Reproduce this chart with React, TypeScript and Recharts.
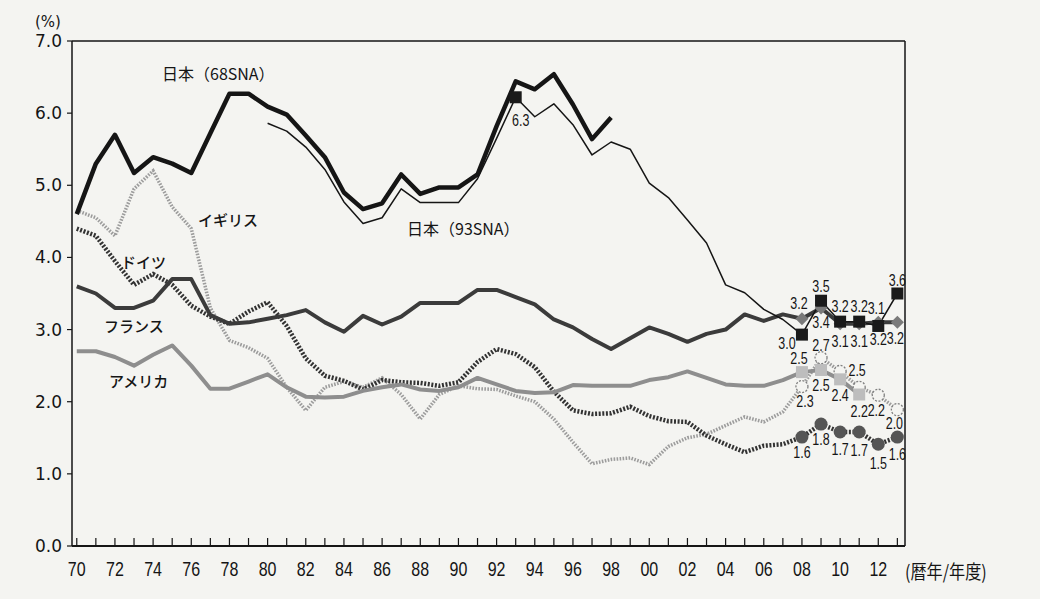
import { LineChart, Line, XAxis, YAxis, ReferenceLine } from 'recharts'

// calendar / fiscal years on the x axis
const years = [
  1970, 1971, 1972, 1973, 1974, 1975, 1976, 1977, 1978, 1979,
  1980, 1981, 1982, 1983, 1984, 1985, 1986, 1987, 1988, 1989,
  1990, 1991, 1992, 1993, 1994, 1995, 1996, 1997, 1998, 1999,
  2000, 2001, 2002, 2003, 2004, 2005, 2006, 2007, 2008, 2009,
  2010, 2011, 2012, 2013,
]
const yTicks = [0, 1, 2, 3, 4, 5, 6, 7]

// 日本（68SNA） 1970-1998
const japan68 = [
  4.6, 5.3, 5.7, 5.17, 5.39, 5.3, 5.17, 5.72, 6.27, 6.27,
  6.09, 5.98, 5.69, 5.39, 4.9, 4.67, 4.75, 5.15, 4.88, 4.97,
  4.97, 5.15, 5.82, 6.44, 6.33, 6.54, 6.12, 5.64, 5.94,
]
// 日本（93SNA） 1980-2013
const japan93 = [
  5.86, 5.75, 5.53, 5.22, 4.77, 4.47, 4.55, 4.95, 4.76, 4.76,
  4.76, 5.09, 5.65, 6.22, 5.95, 6.13, 5.84, 5.42, 5.6, 5.5,
  5.03, 4.83, 4.52, 4.2, 3.62, 3.51, 3.28, 3.14, 2.93, 3.4,
  3.11, 3.11, 3.05, 3.5,
]
// フランス 1970-2013
const france = [
  3.6, 3.5, 3.3, 3.3, 3.4, 3.7, 3.7, 3.2, 3.08, 3.1,
  3.15, 3.2, 3.27, 3.1, 2.97, 3.19, 3.07, 3.18, 3.37, 3.37,
  3.37, 3.55, 3.55, 3.45, 3.35, 3.14, 3.03, 2.87, 2.73, 2.88,
  3.03, 2.94, 2.83, 2.94, 3.0, 3.21, 3.12, 3.21, 3.15, 3.3,
  3.08, 3.08, 3.1, 3.1,
]
// アメリカ 1970-2011
const usa = [
  2.7, 2.7, 2.62, 2.5, 2.65, 2.78, 2.5, 2.18, 2.18, 2.28,
  2.38, 2.2, 2.07, 2.06, 2.07, 2.15, 2.2, 2.24, 2.17, 2.15,
  2.2, 2.33, 2.24, 2.15, 2.12, 2.13, 2.23, 2.22, 2.22, 2.22,
  2.3, 2.34, 2.42, 2.33, 2.24, 2.22, 2.22, 2.3, 2.41, 2.44,
  2.31, 2.1,
]
// ドイツ 1970-2013
const germany = [
  4.4, 4.3, 3.95, 3.62, 3.77, 3.62, 3.33, 3.18, 3.08, 3.25,
  3.38, 3.05, 2.6, 2.36, 2.29, 2.17, 2.3, 2.27, 2.26, 2.22,
  2.27, 2.55, 2.73, 2.66, 2.48, 2.14, 1.88, 1.83, 1.84, 1.93,
  1.8, 1.73, 1.72, 1.53, 1.41, 1.3, 1.39, 1.41, 1.51, 1.69,
  1.58, 1.58, 1.41, 1.51,
]
// イギリス 1970-2013
const uk = [
  4.65, 4.55, 4.3, 4.95, 5.2, 4.7, 4.4, 3.3, 2.85, 2.75,
  2.6, 2.2, 1.88, 2.2, 2.28, 2.2, 2.33, 2.1, 1.76, 2.1,
  2.22, 2.18, 2.17, 2.08, 2.0, 1.76, 1.44, 1.14, 1.2, 1.22,
  1.13, 1.38, 1.5, 1.55, 1.67, 1.79, 1.72, 1.86, 2.21, 2.61,
  2.42, 2.2, 2.09, 1.89,
]

// printed value labels at the marked points
const japanMarkYears = [1993, 2008, 2009, 2010, 2011, 2012, 2013]
const japanMarkLabels = ['6.3', '3.0', '3.5', '3.2', '3.2', '3.1', '3.6']
const franceMarkYears = [2008, 2009, 2010, 2011, 2012, 2013]
const franceMarkLabels = ['3.2', '3.4', '3.1', '3.1', '3.2', '3.2']
const usaMarkYears = [2008, 2009, 2010, 2011]
const usaMarkLabels = ['2.5', '2.5', '2.4', '2.2']
const ukMarkYears = [2008, 2009, 2010, 2011, 2012, 2013]
const ukMarkLabels = ['2.3', '2.7', '2.5', '', '2.2', '2.0']
const germanyMarkYears = [2008, 2009, 2010, 2011, 2012, 2013]
const germanyMarkLabels = ['1.6', '1.8', '1.7', '1.7', '1.5', '1.6']

const data = years.map((year, i) => ({
  year,
  japan68: i < japan68.length ? japan68[i] : null,
  japan93: i >= 10 ? japan93[i - 10] : null,
  france: france[i],
  usa: i < usa.length ? usa[i] : null,
  germany: germany[i],
  uk: uk[i],
}))

const PAPER = '#f4f4f1'
const INK = '#151515'
const SANS = '"Liberation Sans", Arial, sans-serif'
const JP = '"Noto Sans CJK JP", sans-serif'

type Shape = 'square' | 'diamond' | 'circle' | 'ring'

// label offsets [dx, dy] relative to the marker centre
const japanOffsets = [[5, 29], [-15, 14], [0, -9], [0, -10], [0, -10], [-2, -12], [0, -8]]
const franceOffsets = [[-3, -10], [0, 20], [0, 23], [0, 23], [0, 23], [-2, 22]]
const usaOffsets = [[-3, -8], [0, 21], [0, 22], [0, 22]]
const ukOffsets = [[3, 20], [0, -7], [17, 5], [0, 0], [-2, 21], [-3, 19]]
const germanyOffsets = [[0, 21], [0, 21], [0, 23], [0, 24], [0, 25], [0, 23]]

// condensed text, like the print's narrow numerals
function Narrow({ x, y, size, children, anchor = 'middle', sx = 0.78 }: any) {
  return (
    <text
      transform={`translate(${x} ${y}) scale(${sx} 1)`}
      textAnchor={anchor}
      fontSize={size}
      fontFamily={SANS}
      fill={INK}
    >
      {children}
    </text>
  )
}

function markDot(shape: Shape, fill: string, markYears: number[], labels: string[], offsets: number[][]) {
  return (p: any) => {
    const { cx, cy, payload, index } = p
    const k = markYears.indexOf(payload?.year)
    if (cx == null || cy == null || k < 0) return <g key={`d${index}`} />
    let mark
    if (shape === 'square') mark = <rect x={cx - 6} y={cy - 6} width={12} height={12} fill={fill} />
    else if (shape === 'diamond') mark = <path d={`M${cx},${cy - 6.5}L${cx + 6.5},${cy}L${cx},${cy + 6.5}L${cx - 6.5},${cy}Z`} fill={fill} />
    else if (shape === 'circle') mark = <circle cx={cx} cy={cy} r={6.5} fill={fill} />
    else mark = <circle cx={cx} cy={cy} r={6} fill={PAPER} stroke={fill} strokeWidth={1.3} strokeDasharray="2 1.5" />
    const [dx, dy] = offsets[k]
    return (
      <g key={`d${index}`}>
        {mark}
        {labels[k] ? <Narrow x={cx + dx} y={cy + dy} size={16}>{labels[k]}</Narrow> : null}
      </g>
    )
  }
}

function YearTick({ x, y, payload }: any) {
  const yr = payload.value as number
  return (
    <g>
      <line x1={x} x2={x} y1={y} y2={y - 8} stroke={INK} strokeWidth={1.2} />
      {yr % 2 === 0 && yr <= 2012 ? (
        <Narrow x={x} y={y + 30} size={20} sx={0.8}>{String(yr).slice(2)}</Narrow>
      ) : null}
    </g>
  )
}

const seriesNames = [
  { text: '日本（68SNA）', x: 162, y: 80, size: 16, weight: 400 },
  { text: '日本（93SNA）', x: 407, y: 235, size: 16, weight: 400 },
  { text: 'イギリス', x: 198, y: 226, size: 15, weight: 500 },
  { text: 'ドイツ', x: 121, y: 268, size: 15, weight: 500 },
  { text: 'フランス', x: 104, y: 332, size: 15, weight: 500 },
  { text: 'アメリカ', x: 109, y: 387, size: 15, weight: 500 },
]

export default function App() {
  return (
    <div style={{ position: 'absolute', left: 0, top: 0, width: 1040, height: 599, background: PAPER }}>
      <LineChart width={1040} height={599} data={data} margin={{ top: 41, right: 135, bottom: 23, left: 0 }}>
        <XAxis
          dataKey="year"
          type="number"
          domain={[1969.75, 2013.4]}
          ticks={years}
          interval={0}
          tick={<YearTick />}
          tickLine={false}
          tickSize={0}
          tickMargin={0}
          height={30}
          axisLine={{ stroke: INK, strokeWidth: 2 }}
        />
        <YAxis
          type="number"
          domain={[0, 7]}
          ticks={yTicks}
          width={72}
          tickSize={5}
          tickMargin={5}
          tickFormatter={(v) => v.toFixed(1)}
          tick={{ fontSize: 17, fontFamily: '"DejaVu Sans", sans-serif', fill: INK }}
          tickLine={{ stroke: INK, strokeWidth: 1.2 }}
          axisLine={{ stroke: INK, strokeWidth: 1.5 }}
        />
        <ReferenceLine y={7} stroke={INK} strokeWidth={1.5} />
        <ReferenceLine x={2013.4} stroke={INK} strokeWidth={1.5} />

        <Line
          dataKey="uk"
          stroke="#9c9c9c"
          strokeWidth={3.5}
          strokeDasharray="1.6 1.4"
          dot={markDot('ring', '#808080', ukMarkYears, ukMarkLabels, ukOffsets)}
          isAnimationActive={false}
        />
        <Line
          dataKey="germany"
          stroke="#333"
          strokeWidth={4.5}
          strokeDasharray="2 1.6"
          dot={markDot('circle', '#555', germanyMarkYears, germanyMarkLabels, germanyOffsets)}
          isAnimationActive={false}
        />
        <Line
          dataKey="usa"
          stroke="#8e8e8e"
          strokeWidth={4}
          strokeLinejoin="round"
          dot={markDot('square', '#bdbdbd', usaMarkYears, usaMarkLabels, usaOffsets)}
          isAnimationActive={false}
        />
        <Line
          dataKey="france"
          stroke="#3b3b3b"
          strokeWidth={4}
          strokeLinejoin="round"
          dot={markDot('diamond', '#7a7a7a', franceMarkYears, franceMarkLabels, franceOffsets)}
          isAnimationActive={false}
        />
        <Line
          dataKey="japan93"
          stroke={INK}
          strokeWidth={1.5}
          strokeLinejoin="round"
          dot={markDot('square', '#1a1a1a', japanMarkYears, japanMarkLabels, japanOffsets)}
          isAnimationActive={false}
        />
        <Line
          dataKey="japan68"
          stroke={INK}
          strokeWidth={4.5}
          strokeLinejoin="round"
          dot={false}
          isAnimationActive={false}
        />
      </LineChart>

      <svg width={1040} height={599} style={{ position: 'absolute', left: 0, top: 0, pointerEvents: 'none' }}>
        <text x={35} y={27} fontSize={15} fontFamily='"DejaVu Sans", sans-serif' fill={INK}>(%)</text>
        {seriesNames.map((s) => (
          <text key={s.text} x={s.x} y={s.y} fontSize={s.size} fontWeight={s.weight} fontFamily={JP} fill={INK}>
            {s.text}
          </text>
        ))}
        <text
          transform="translate(905 579) scale(0.85 1)"
          fontSize={19}
          fontFamily={JP}
          fill={INK}
        >
          (暦年/年度)
        </text>
      </svg>
    </div>
  )
}
